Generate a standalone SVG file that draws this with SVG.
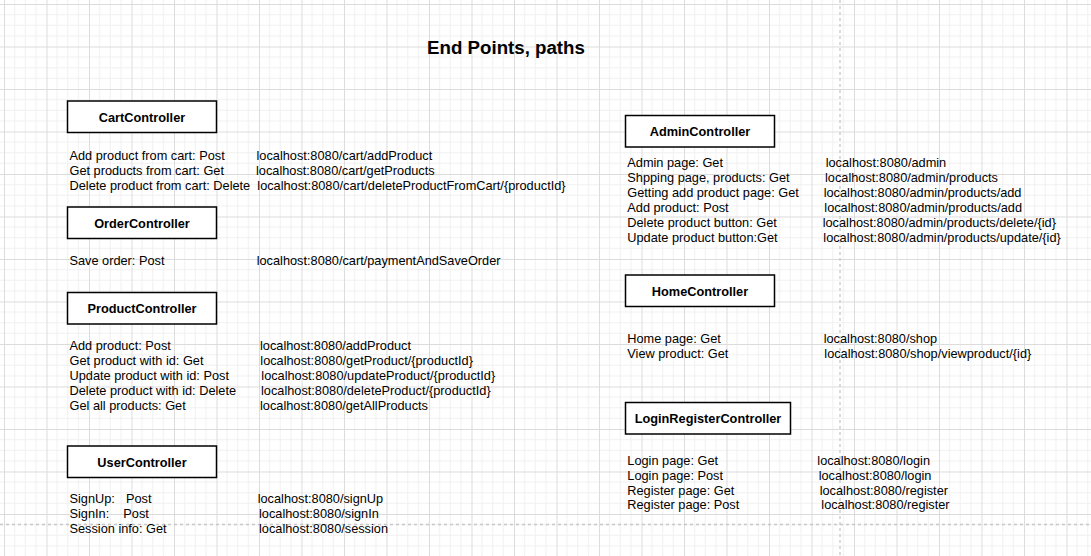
<svg xmlns="http://www.w3.org/2000/svg" width="1091" height="556" viewBox="0 0 1091 556">
<style>
.t{font-family:"Liberation Sans",Arial,sans-serif;font-size:12.75px;fill:#000}
.b{font-family:"Liberation Sans",Arial,sans-serif;font-size:12.75px;font-weight:bold;fill:#000;text-anchor:middle}
.box{fill:#fff;stroke:#000;stroke-width:1.5}
.pb{stroke:#c8c8c8;stroke-width:1.3;stroke-dasharray:3 3;fill:none}
</style>
<defs>
<pattern id="grid" x="4" y="4" width="42.5" height="42.5" patternUnits="userSpaceOnUse">
<path d="M10.625 0V42.5M21.25 0V42.5M31.875 0V42.5M0 10.625H42.5M0 21.25H42.5M0 31.875H42.5" stroke="#f0f0f0" stroke-width="1" fill="none"/>
<path d="M0.5 0V42.5M0 0.5H42.5" stroke="#dcdcdc" stroke-width="1" fill="none"/>
</pattern>
</defs>
<rect width="1091" height="556" fill="#fff"/>
<rect width="1091" height="556" fill="url(#grid)"/>
<path class="pb" d="M840 0V556M0 524.5H1091"/>
<text x="506" y="53.5" style="font-family:'Liberation Sans',Arial,sans-serif;font-size:18.7px;font-weight:bold;text-anchor:middle">End Points, paths</text>

<g id="cart">
<rect class="box" x="67.5" y="101" width="149" height="31.5"/>
<text class="b" x="142" y="121.5">CartController</text>
<text class="t" x="69.5" y="160">Add product from cart: Post</text>
<text class="t" x="256.5" y="160">localhost:8080/cart/addProduct</text>
<text class="t" x="69.5" y="175">Get products from cart: Get</text>
<text class="t" x="256" y="175">localhost:8080/cart/getProducts</text>
<text class="t" x="69.5" y="190">Delete product from cart: Delete</text>
<text class="t" x="257.3" y="190">localhost:8080/cart/deleteProductFromCart/{productId}</text>
</g>

<g id="order">
<rect class="box" x="67.5" y="207" width="149" height="31.5"/>
<text class="b" x="142" y="227.5">OrderController</text>
<text class="t" x="69.5" y="265">Save order: Post</text>
<text class="t" x="256.7" y="265">localhost:8080/cart/paymentAndSaveOrder</text>
</g>

<g id="product">
<rect class="box" x="67.5" y="292.5" width="149" height="31.5"/>
<text class="b" x="142" y="313">ProductController</text>
<text class="t" x="69.5" y="350">Add product: Post</text>
<text class="t" x="260" y="350">localhost:8080/addProduct</text>
<text class="t" x="69.5" y="365">Get product with id: Get</text>
<text class="t" x="260.3" y="365">localhost:8080/getProduct/{productId}</text>
<text class="t" x="69.5" y="380">Update product with id: Post</text>
<text class="t" x="261.3" y="380">localhost:8080/updateProduct/{productId}</text>
<text class="t" x="69.5" y="395">Delete product with id: Delete</text>
<text class="t" x="261" y="395">localhost:8080/deleteProduct/{productId}</text>
<text class="t" x="69.5" y="410">Gel all products: Get</text>
<text class="t" x="260" y="410">localhost:8080/getAllProducts</text>
</g>

<g id="user">
<rect class="box" x="67.5" y="446" width="149" height="31.5"/>
<text class="b" x="142" y="466.5">UserController</text>
<text class="t" x="69.5" y="503">SignUp:<tspan x="126">Post</tspan></text>
<text class="t" x="257.7" y="503">localhost:8080/signUp</text>
<text class="t" x="69.5" y="518">SignIn:<tspan x="123.3">Post</tspan></text>
<text class="t" x="259" y="518">localhost:8080/signIn</text>
<text class="t" x="69.5" y="533">Session info: Get</text>
<text class="t" x="259" y="533">localhost:8080/session</text>
</g>

<g id="admin">
<rect class="box" x="625.5" y="115.5" width="149" height="31.5"/>
<text class="b" x="700" y="136">AdminController</text>
<text class="t" x="627.3" y="167">Admin page: Get</text>
<text class="t" x="825.7" y="167">localhost:8080/admin</text>
<text class="t" x="627.3" y="182">Shpping page, products: Get</text>
<text class="t" x="825" y="182">localhost:8080/admin/products</text>
<text class="t" x="627.3" y="197">Getting add product page: Get</text>
<text class="t" x="823.7" y="197">localhost:8080/admin/products/add</text>
<text class="t" x="627.3" y="212">Add product: Post</text>
<text class="t" x="824.3" y="212">localhost:8080/admin/products/add</text>
<text class="t" x="627.3" y="227">Delete product button: Get</text>
<text class="t" x="822.7" y="227">localhost:8080/admin/products/delete/{id}</text>
<text class="t" x="627.3" y="242">Update product button:Get</text>
<text class="t" x="823.3" y="242">localhost:8080/admin/products/update/{id}</text>
</g>

<g id="home">
<rect class="box" x="625.5" y="275" width="149" height="31.5"/>
<text class="b" x="700" y="295.5">HomeController</text>
<text class="t" x="627.3" y="342.5">Home page: Get</text>
<text class="t" x="823.7" y="342.5">localhost:8080/shop</text>
<text class="t" x="627.3" y="357.5">View product: Get</text>
<text class="t" x="824.3" y="357.5">localhost:8080/shop/viewproduct/{id}</text>
</g>

<g id="loginregister">
<rect class="box" x="625.5" y="402.5" width="165" height="31.5"/>
<text class="b" x="708" y="423">LoginRegisterController</text>
<text class="t" x="627.3" y="464.5">Login page: Get</text>
<text class="t" x="817.3" y="464.5">localhost:8080/login</text>
<text class="t" x="627.3" y="479.5">Login page: Post</text>
<text class="t" x="818.7" y="479.5">localhost:8080/login</text>
<text class="t" x="627.3" y="494.5">Register page: Get</text>
<text class="t" x="819.7" y="494.5">localhost:8080/register</text>
<text class="t" x="627.3" y="509">Register page: Post</text>
<text class="t" x="821.3" y="509">localhost:8080/register</text>
</g>

<g id="connectors"></g>
</svg>
